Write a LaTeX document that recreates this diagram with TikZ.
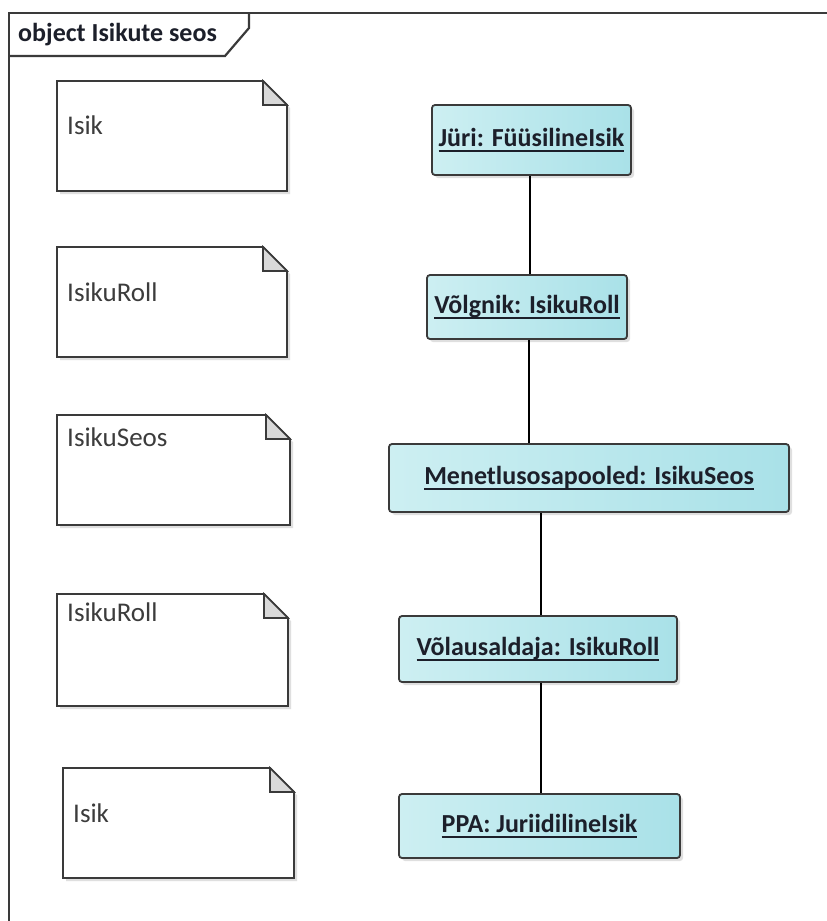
\documentclass[tikz,border=0pt]{standalone}
\usepackage{fontspec}
\setmainfont{Carlito}
\usetikzlibrary{shadows}
\definecolor{framegray}{HTML}{3A3A3A}
\definecolor{objleft}{HTML}{CDEFF2}
\definecolor{objright}{HTML}{A9E1E8}
\definecolor{foldgray}{HTML}{D9D9D9}
\definecolor{txtdark}{HTML}{1C1F2A}
\definecolor{notetxt}{HTML}{3C3C3C}
\tikzset{
  objbox/.style={draw=framegray, line width=1.8pt, rounded corners=3pt,
    left color=objleft, right color=objright, inner sep=0pt,
    drop shadow={shadow xshift=3pt, shadow yshift=-3pt, opacity=0.25, fill=gray},
    font=\fontsize{26}{30}\selectfont\bfseries, text=txtdark},
  noteline/.style={draw=framegray, line width=1.8pt, fill=white, line join=miter},
  notefold/.style={draw=framegray, line width=1.6pt, fill=foldgray},
  notetext/.style={anchor=west, inner sep=0pt, font=\fontsize{27}{30}\selectfont, text=notetxt},
  link/.style={draw=black, line width=1.5pt}
}
% underlined object name with a heavier rule set a little lower
\newcommand{\objname}[1]{\setbox0\hbox{#1}\leavevmode\rlap{\raisebox{-5pt}{\rule{\wd0}{1.6pt}}}\box0}
% a note with a folded top-right corner: left, top, right, bottom
\newcommand{\dognote}[4]{%
  \fill[gray!25] (#1+3,#2+3) -- (#3-21,#2+3) -- (#3+3,#2+27) -- (#3+3,#4+3) -- (#1+3,#4+3) -- cycle;
  \path[noteline] (#1,#2) -- (#3-24,#2) -- (#3,#2+24) -- (#3,#4) -- (#1,#4) -- cycle;
  \path[notefold] (#3-24,#2) -- (#3-24,#2+24) -- (#3,#2+24) -- cycle;
}
\begin{document}
\begin{tikzpicture}[x=1pt,y=-1pt]
\useasboundingbox (0,0) rectangle (827,921);
\fill[white] (0,0) rectangle (827,921);

% diagram frame and name tab
\draw[draw=framegray, line width=2.2pt] (9,921) -- (9,13) -- (827,13);
\draw[draw=framegray, line width=2.2pt] (9,56) -- (225,56) -- (249,28) -- (249,13);
\node[anchor=west, inner sep=0pt, font=\fontsize{26}{30}\selectfont\bfseries, text=txtdark] (title) at (18,35) {object Isikute seos};

% classifier notes
\dognote{57}{81}{287}{191}
\node[notetext] (n1) at (67,125) {Isik};
\dognote{57}{247}{287}{357}
\node[notetext] (n2) at (67,292) {IsikuRoll};
\dognote{57}{415}{290}{525}
\node[notetext] (n3) at (67,437) {IsikuSeos};
\dognote{57}{594}{288}{706}
\node[notetext] (n4) at (67,612) {IsikuRoll};
\dognote{63}{768}{294}{878}
\node[notetext] (n5) at (73,813) {Isik};

% object instances
\node[objbox, minimum width=199pt, minimum height=70pt] (o1) at (531.5,140) {\objname{Jüri: FüüsilineIsik}};
\node[objbox, minimum width=200pt, minimum height=64pt] (o2) at (527,307) {\objname{Võlgnik: IsikuRoll}};
\node[objbox, minimum width=400pt, minimum height=68pt] (o3) at (589,478) {\objname{Menetlusosapooled: IsikuSeos}};
\node[objbox, minimum width=278pt, minimum height=66pt] (o4) at (538,649) {\objname{Võlausaldaja: IsikuRoll}};
\node[objbox, minimum width=281pt, minimum height=64pt] (o5) at (539.5,826) {\objname{PPA: JuriidilineIsik}};

% links
\draw[link] ([xshift=-1.5pt]o1.south) -- ([xshift=-1.5pt]o1.south |- o2.north);
\draw[link] ([xshift=2pt]o2.south) -- ([xshift=2pt]o2.south |- o3.north);
\draw[link] ([xshift=3pt]o4.north |- o3.south) -- ([xshift=3pt]o4.north);
\draw[link] ([xshift=3pt]o4.south) -- ([xshift=3pt]o4.south |- o5.north);
\end{tikzpicture}
\end{document}
